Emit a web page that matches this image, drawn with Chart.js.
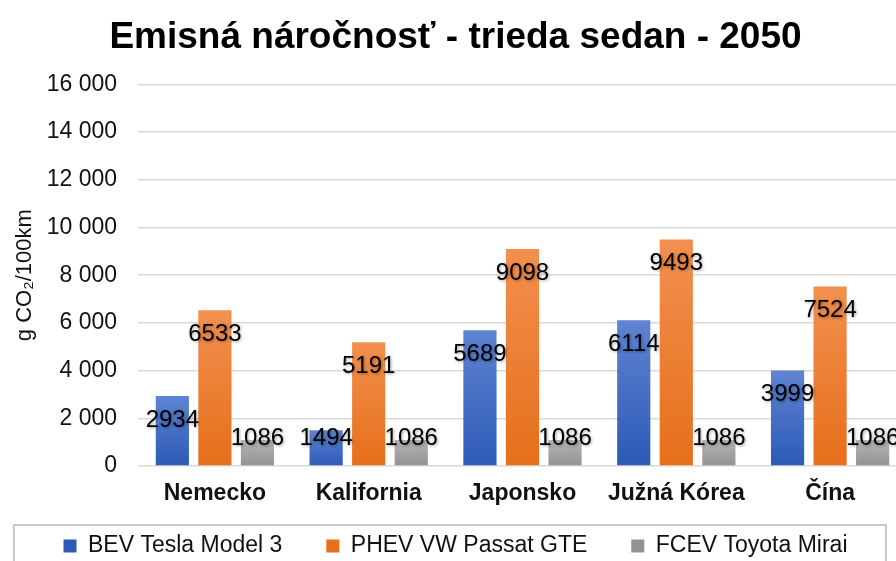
<!DOCTYPE html>
<html lang="sk">
<head>
<meta charset="utf-8">
<title>Emisná náročnosť - trieda sedan - 2050</title>
<script src="https://cdn.jsdelivr.net/npm/chart.js@4.4.1/dist/chart.umd.min.js"></script>
<style>
  html, body { margin: 0; padding: 0; background: #fff; overflow: hidden; }
  #wrap { width: 912px; height: 582px; }
</style>
</head>
<body>
<div id="wrap"><canvas id="chart-emisie"></canvas></div>
<script>
/* ── Dáta ─────────────────────────────────────────────── */
const KRAJINY = ['Nemecko', 'Kalifornia', 'Japonsko', 'Južná Kórea', 'Čína'];
const BEV_TESLA  = [2934, 1494, 5689, 6114, 3999];
const PHEV_VW    = [6533, 5191, 9098, 9493, 7524];
const FCEV_MIRAI = [1086, 1086, 1086, 1086, 1086];
const Y_TICKS_MAX  = 16000;
const Y_TICKS_STEP = 2000;

const FONT = "'Liberation Sans', Arial, Helvetica, sans-serif";

/* farby: [hore, dole, legenda] */
const FARBY = {
  blue:   ['#5f84d2', '#2c5ab6', '#4472c4'],
  orange: ['#f2904f', '#e66f1a', '#ed7d31'],
  gray:   ['#b5b5b5', '#929292', '#a5a5a5'],
};

const gradBar = (farba) => (c) => {
  if (c.type !== 'data') return farba[2];
  const chart = c.chart;
  const y = chart.scales.y;
  if (!y || !chart.chartArea) return farba[2];
  const top = y.getPixelForValue(c.raw);
  const bot = y.getPixelForValue(0);
  const g = chart.ctx.createLinearGradient(0, top, 0, bot);
  g.addColorStop(0, farba[0]);
  g.addColorStop(1, farba[1]);
  return g;
};

const fmtTis = v => String(v).replace(/\B(?=(\d{3})+(?!\d))/g, ' ');

/* ── Popisky hodnôt v stĺpcoch ───────────────────────── */
const hodnotyPlugin = {
  id: 'hodnoty',
  afterDatasetsDraw(chart) {
    const ctx = chart.ctx;
    ctx.save();
    ctx.font = `24px ${FONT}`;
    ctx.fillStyle = '#000';
    ctx.textAlign = 'center';
    ctx.textBaseline = 'middle';
    ctx.shadowColor = 'rgba(0,0,0,0.35)';
    ctx.shadowBlur = 3;
    ctx.shadowOffsetX = 1;
    ctx.shadowOffsetY = 1;
    chart.data.datasets.forEach((ds, i) => {
      chart.getDatasetMeta(i).data.forEach((el, j) => {
        const cy = Math.min(el.y + 24, el.base - 27);
        ctx.fillText(String(ds.data[j]), el.x, cy);
      });
    });
    ctx.restore();
  },
};

/* ── Legenda: posun nahor + rámik ────────────────────── */
const ramikLegendy = {
  id: 'ramikLegendy',
  afterLayout(chart) {
    const lg = chart.legend;
    if (lg) { lg.top -= 14.5; lg.bottom -= 14.5; }
  },
  afterDraw(chart) {
    const lg = chart.legend;
    if (!lg) return;
    const ctx = chart.ctx;
    ctx.save();
    ctx.strokeStyle = '#c8c8c8';
    ctx.lineWidth = 2;
    ctx.strokeRect(14, lg.top + 34.5, 872, lg.height);
    ctx.restore();
  },
};

new Chart(document.getElementById('chart-emisie'), {
  type: 'bar',
  data: {
    labels: KRAJINY,
    datasets: [
      { label: 'BEV Tesla Model 3',  data: BEV_TESLA,  backgroundColor: gradBar(FARBY.blue) },
      { label: 'PHEV VW Passat GTE', data: PHEV_VW,    backgroundColor: gradBar(FARBY.orange) },
      { label: 'FCEV Toyota Mirai',  data: FCEV_MIRAI, backgroundColor: gradBar(FARBY.gray) },
    ],
  },
  options: {
    responsive: true, maintainAspectRatio: false, animation: false,
    categoryPercentage: 0.83, barPercentage: 0.78,
    layout: { padding: { left: 4, right: 5, top: 0, bottom: 0 } },
    scales: {
      x: {
        grid: { display: false },
        border: { display: false },
        ticks: { color: '#111', padding: 6, font: { family: FONT, size: 23, weight: 'bold' } },
        afterFit: s => { s.height = 39; },
      },
      y: {
        min: 0, max: Y_TICKS_MAX,
        grid: { color: '#d9d9d9', lineWidth: 1.5, drawTicks: false },
        border: { display: false },
        ticks: {
          stepSize: Y_TICKS_STEP, padding: 21, color: '#111',
          font: { family: FONT, size: 23 },
          callback: v => fmtTis(v),
        },
        title: {
          display: true, text: 'g CO₂/100km', color: '#111',
          font: { family: FONT, size: 22 },
          padding: { top: 8, bottom: 6 },
        },
        afterFit: s => { s.width = 134; },
      },
    },
    plugins: {
      title: {
        display: true, text: 'Emisná náročnosť - trieda sedan - 2050', color: '#000',
        font: { family: FONT, size: 37, weight: 'bold' },
        padding: { top: 16, bottom: 24 },
      },
      legend: {
        position: 'bottom',
        labels: {
          color: '#111', boxWidth: 13, boxHeight: 13, padding: 44,
          font: { family: FONT, size: 23 },
        },
      },
      tooltip: { enabled: false },
    },
  },
  plugins: [hodnotyPlugin, ramikLegendy],
});
</script>
</body>
</html>
